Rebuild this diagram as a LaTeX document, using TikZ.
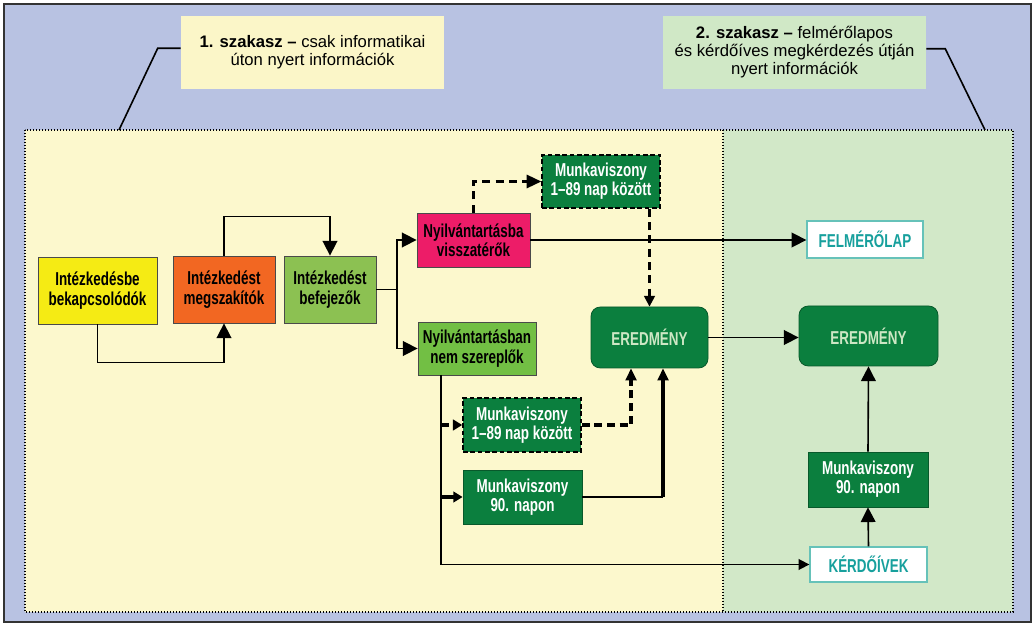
\documentclass[tikz,border=0pt]{standalone}
\usepackage{fontspec}
\setmainfont{Liberation Sans}
\newfontfamily\narrowsans[FakeStretch=0.72]{Liberation Sans}
\usetikzlibrary{arrows.meta,calc}

\definecolor{frameblue}{HTML}{B8C2E2}
\definecolor{areayellow}{HTML}{FCF8CD}
\definecolor{areagreen}{HTML}{D2E8C8}
\definecolor{labyellow}{HTML}{FBF6C8}
\definecolor{labgreen}{HTML}{D0E8C6}
\definecolor{boxyellow}{HTML}{F5EB14}
\definecolor{boxorange}{HTML}{F26722}
\definecolor{boxlime}{HTML}{8CC152}
\definecolor{boxmagenta}{HTML}{ED1C68}
\definecolor{boxgreen}{HTML}{72BF44}
\definecolor{darkgreen}{HTML}{0B7F3E}
\definecolor{paletext}{HTML}{CDE7C4}
\definecolor{tealtext}{HTML}{17A09D}
\definecolor{tealedge}{HTML}{66C2B9}
\definecolor{edge}{HTML}{4A4A4A}

\begin{document}
\begin{tikzpicture}[x=0.75pt,y=-0.75pt,
  wh/.style 2 args={minimum width=#1*0.75pt,minimum height=#2*0.75pt},
  base/.style={inner sep=0pt,align=center,draw=edge,line width=0.6pt,
    font=\narrowsans\bfseries\fontsize{14}{14.5}\selectfont},
  darkbox/.style={base,fill=darkgreen,text=white,draw=darkgreen!70!black},
  dashbox/.style={base,fill=darkgreen,text=white,draw=black,line width=1.1pt,
    dash pattern=on 3.5pt off 2pt},
  resbox/.style={base,fill=darkgreen,text=paletext,draw=darkgreen!70!black,
    rounded corners=7pt},
  whitebox/.style={base,fill=white,text=tealtext,draw=tealedge,line width=1pt},
  label/.style={inner sep=0pt,align=center,font=\fontsize{12.5}{13.5}\selectfont},
  conn/.style={line width=1.2pt},
  arr/.style={conn,-{Triangle[length=11pt,width=11pt]}},
  sarr/.style={conn,-{Triangle[length=8pt,width=8pt]}},
  dashedline/.style={line width=1.7pt,dash pattern=on 6pt off 4pt},
  dotline/.style={line width=0.8pt,dash pattern=on 0.8pt off 1.45pt}]

\useasboundingbox (0,0) rectangle (1033,624);

% outer frame
\fill[white] (0,0) rectangle (1033,624);
\draw[fill=frameblue,line width=1pt,draw=black!80] (4,4) rectangle (1031,622);

% the two phases
\fill[areayellow] (25,130) rectangle (723,612);
\fill[areagreen] (723,130) rectangle (1013,612);
\draw[dotline] (25,130) rectangle (1013,612);
\draw[dotline] (723,130) -- (723,612);

% phase captions
\node[label,fill=labyellow,wh={263}{73}] (lab1) at (312.5,52.5)
  {\textbf{1. szakasz –} csak informatikai\\úton nyert információk};
\node[label,fill=labgreen,wh={263}{73}] (lab2) at (794.5,52.5)
  {\textbf{2. szakasz –} felmérőlapos\\és kérdőíves megkérdezés útján\\nyert információk};
\coordinate (c1) at (119,130);
\coordinate (c2) at (985,130);
\draw[conn] ($(lab1.north west)+(0,32.5)$) -- ++(-23,0) -- (c1);
\draw[conn] ($(lab2.north east)+(0,33)$) -- ++(19,0) -- (c2);

% boxes
\node[base,fill=boxyellow,wh={119}{67}] (bek) at (97.5,290.5) {Intézkedésbe\\bekapcsolódók};
\node[base,fill=boxorange,wh={102}{67}] (megsz) at (224,289.5) {Intézkedést\\megszakítók};
\node[base,fill=boxlime,wh={92}{67}] (befej) at (330,289.5) {Intézkedést\\befejezők};
\node[base,fill=boxmagenta,wh={113}{54}] (vissza) at (473.5,240) {Nyilvántartásba\\visszatérők};
\node[dashbox,wh={118}{53}] (mv1) at (601,181.5) {Munkaviszony\\1–89 nap között};
\node[base,fill=boxgreen,wh={118}{53}] (nemsz) at (477,348.5) {Nyilvántartásban\\nem szereplők};
\node[dashbox,wh={118}{54}] (mv2) at (522,425) {Munkaviszony\\1–89 nap között};
\node[darkbox,wh={119}{54}] (mv3) at (522.5,497) {Munkaviszony\\90. napon};
\node[resbox,wh={117}{61}] (ered1) at (649.5,337.5) {EREDMÉNY};
\node[resbox,wh={139}{60}] (ered2) at (868.5,336) {EREDMÉNY};
\node[whitebox,wh={116}{37}] (felm) at (865,239.5) {FELMÉRŐLAP};
\node[darkbox,wh={120}{55}] (mv4) at (868,479.5) {Munkaviszony\\90. napon};
\node[whitebox,wh={117}{35}] (kerd) at (868.5,564.5) {KÉRDŐÍVEK};

% junctions
\coordinate (br) at (397,289.5);
\coordinate (tr) at (441,375);
\coordinate (in2) at ($(ered1.south)+(-18.5,0)$);
\coordinate (in3) at ($(ered1.south)+(13.5,0)$);

% connectors, phase 1
\draw[arr] (bek.south) -- ++(0,38) -| (megsz.south);
\draw[arr] (megsz.north) -- ++(0,-39) -| (befej.north);
\draw[conn] (befej.east) -- (br);
\draw[arr] (br) |- (vissza.west);
\draw[arr] (br) |- (nemsz.west);
\draw[dashedline,-{Triangle[length=11pt,width=10pt]}] (vissza.north) |- (mv1.west);
\draw[arr] (vissza.east) -- (vissza.east -| felm.west);
\draw[dashedline,-{Triangle[length=8pt,width=8pt]}] (mv1.south -| ered1.north) -- (ered1.north);
\draw[sarr] (tr) |- (kerd.west);
\draw[line width=2.4pt,dash pattern=on 6pt off 3.5pt,-{Triangle[length=7pt,width=8pt]}]
  (tr |- mv2.west) -- (mv2.west);
\draw[line width=2.4pt,-{Triangle[length=7pt,width=8pt]}] (tr |- mv3.west) -- (mv3.west);
\draw[line width=2.4pt,dash pattern=on 6pt off 3.5pt,-{Triangle[length=9pt,width=8pt]}]
  (mv2.east) -| (in2);
\draw[conn] (mv3.east) -- (mv3.east -| in3);
\draw[line width=2.4pt,-{Triangle[length=9pt,width=8pt]}] (mv3.east -| in3) -- (in3);

% connectors, phase 2
\draw[arr] (ered1.east) -- (ered1.east -| ered2.west);
\draw[arr] (kerd.north) -- (mv4.south);
\draw[arr] (mv4.north) -- (ered2.south);

\end{tikzpicture}
\end{document}
